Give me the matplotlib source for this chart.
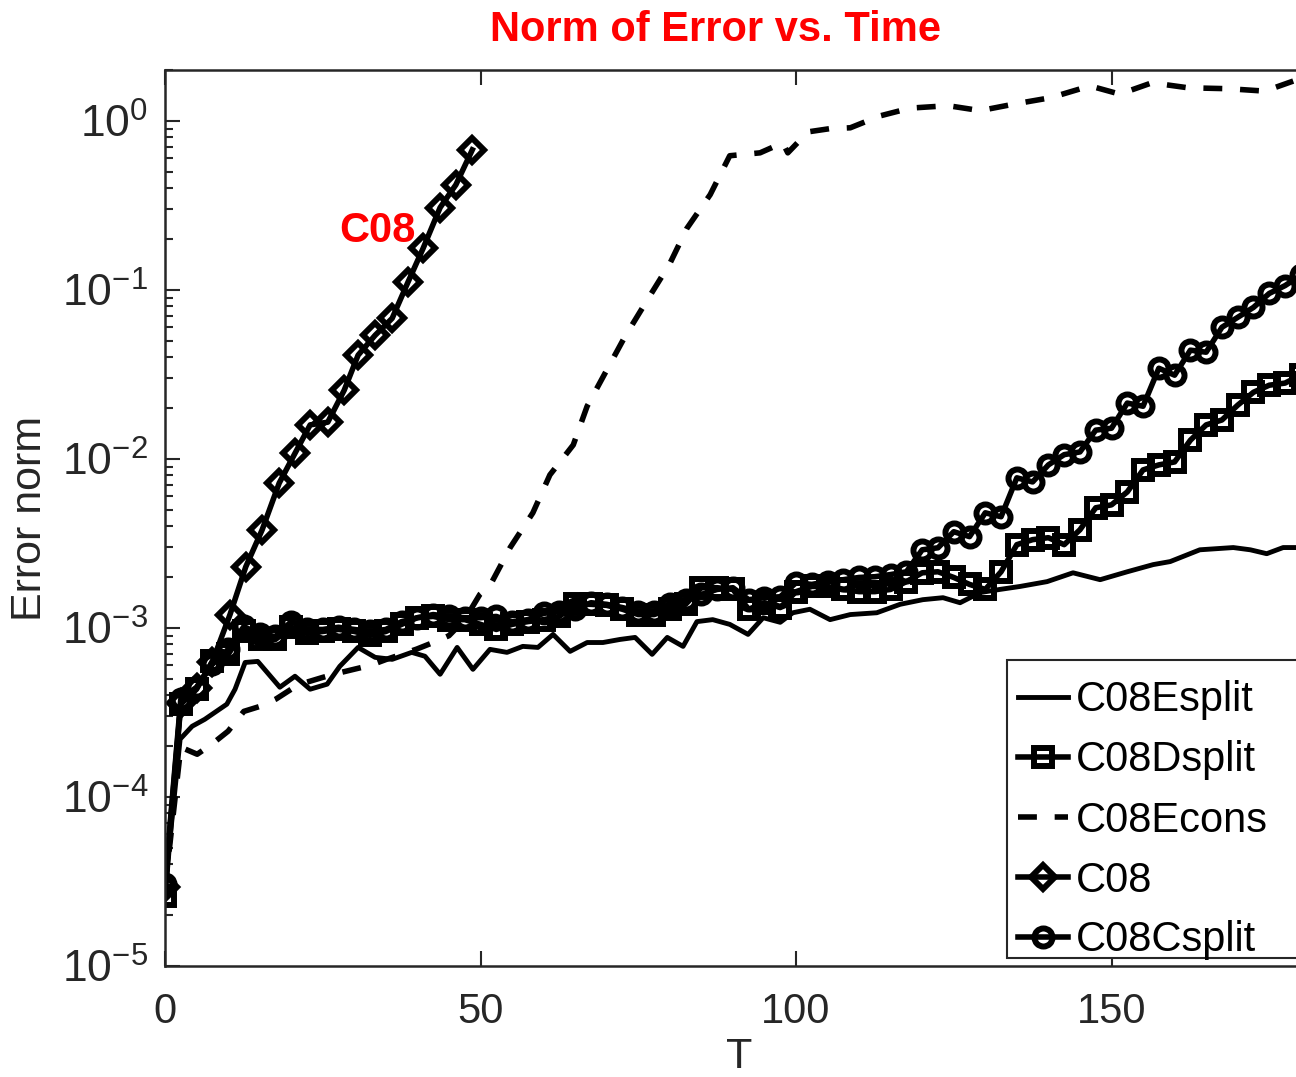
import numpy as np
import matplotlib
matplotlib.use("Agg")
import matplotlib.pyplot as plt
from matplotlib.patches import Rectangle
from matplotlib.ticker import FuncFormatter

# values
t_grid = np.arange(0, 180.1, 2.5)

dsplit = [2.61e-5, 3.54e-4, 4.34e-4, 6.34e-4, 6.98e-4, 9.53e-4, 8.55e-4, 8.55e-4, 1.01e-3, 9.28e-4,
          9.53e-4, 9.8e-4, 9.53e-4, 9.03e-4, 9.53e-4, 1.05e-3, 1.15e-3, 1.17e-3, 1.12e-3, 1.12e-3,
          1.05e-3, 9.8e-4, 1.05e-3, 1.09e-3, 1.12e-3, 1.17e-3, 1.38e-3, 1.38e-3, 1.36e-3, 1.29e-3,
          1.20e-3, 1.20e-3, 1.29e-3, 1.38e-3, 1.73e-3, 1.73e-3, 1.69e-3, 1.29e-3, 1.41e-3, 1.32e-3,
          1.64e-3, 1.76e-3, 1.76e-3, 1.69e-3, 1.64e-3, 1.64e-3, 1.69e-3, 1.88e-3, 2.12e-3, 2.15e-3,
          1.99e-3, 1.81e-3, 1.69e-3, 2.15e-3, 3.11e-3, 3.33e-3, 3.42e-3, 3.11e-3, 3.81e-3, 5.14e-3,
          5.35e-3, 6.38e-3, 8.61e-3, 9.22e-3, 9.6e-3, 1.29e-2, 1.59e-2, 1.70e-2, 2.08e-2, 2.48e-2,
          2.73e-2, 2.81e-2, 3.13e-2]

csplit = [3.07e-5, 3.79e-4, 4.46e-4, 6.09e-4, 7.47e-4, 1.02e-3, 9.16e-4, 8.91e-4, 1.09e-3, 9.8e-4,
          9.8e-4, 1.01e-3, 9.8e-4, 9.53e-4, 9.8e-4, 1.09e-3, 1.15e-3, 1.20e-3, 1.17e-3, 1.15e-3,
          1.15e-3, 1.17e-3, 1.09e-3, 1.12e-3, 1.22e-3, 1.25e-3, 1.29e-3, 1.41e-3, 1.38e-3, 1.32e-3,
          1.25e-3, 1.25e-3, 1.38e-3, 1.47e-3, 1.58e-3, 1.69e-3, 1.73e-3, 1.47e-3, 1.51e-3, 1.53e-3,
          1.85e-3, 1.81e-3, 1.88e-3, 1.93e-3, 1.99e-3, 2.01e-3, 2.07e-3, 2.15e-3, 2.90e-3, 2.98e-3,
          3.71e-3, 3.47e-3, 4.80e-3, 4.55e-3, 7.73e-3, 7.31e-3, 9.22e-3, 1.06e-2, 1.10e-2, 1.48e-2,
          1.52e-2, 2.14e-2, 2.05e-2, 3.44e-2, 3.13e-2, 4.40e-2, 4.28e-2, 6.01e-2, 6.88e-2, 7.88e-2,
          9.53e-2, 0.106, 0.122]

c08_t = [0, 2.5, 5, 7.5, 10.3, 12.8, 15.4, 18.1, 20.6, 23.0, 25.8, 28.4, 30.6, 33.3, 36.0, 38.5,
         40.9, 43.6, 46.1, 48.7]
c08 = [2.95e-5, 3.6e-4, 4.4e-4, 6.3e-4, 1.2e-3, 2.3e-3, 3.81e-3, 7.2e-3, 1.08e-2, 1.59e-2,
       1.65e-2, 2.55e-2, 4.11e-2, 5.39e-2, 6.79e-2, 0.111, 0.176, 0.307, 0.419, 0.674]

esplit_t = [0, 2.4, 4.3, 6.3, 9.8, 11.1, 12.7, 14.7, 18.2, 20.6, 23.0, 25.7, 27.7, 30.6, 33.3, 36.0,
            39.1, 41.2, 43.6, 46.3, 48.8, 51.5, 54.2, 56.7, 59.1, 61.5, 64.2, 66.9, 69.4, 72.1,
            74.5, 77.2, 79.6, 82.1, 84.3, 86.8, 89.5, 92.4, 94.8, 97.5, 99.5, 102.2, 105.4, 108.6,
            112.8, 116.5, 120.1, 123.3, 126.0, 129.2, 132.3, 135.5, 139.8, 143.9, 148.2, 152.5,
            156.6, 159.3, 164.0, 169.3, 172.0, 174.6, 177.2, 179.2]
esplit = [2.9e-5, 2.2e-4, 2.62e-4, 2.88e-4, 3.54e-4, 4.34e-4, 6.25e-4, 6.34e-4, 4.46e-4, 5.18e-4,
          4.34e-4, 4.65e-4, 5.93e-4, 7.67e-4, 6.7e-4, 6.52e-4, 7.17e-4, 6.8e-4, 5.32e-4, 7.67e-4,
          5.69e-4, 7.47e-4, 7.17e-4, 7.78e-4, 7.67e-4, 9.16e-4, 7.27e-4, 8.2e-4, 8.2e-4, 8.55e-4,
          8.79e-4, 6.98e-4, 8.79e-4, 7.78e-4, 1.09e-3, 1.12e-3, 1.05e-3, 9.16e-4, 1.15e-3, 1.08e-3,
          1.23e-3, 1.29e-3, 1.12e-3, 1.2e-3, 1.23e-3, 1.38e-3, 1.47e-3, 1.51e-3, 1.41e-3, 1.62e-3,
          1.69e-3, 1.76e-3, 1.88e-3, 2.12e-3, 1.93e-3, 2.15e-3, 2.37e-3, 2.47e-3, 2.9e-3, 2.99e-3,
          2.9e-3, 2.75e-3, 2.99e-3, 2.99e-3]

econs_t = [0, 2.5, 5.1, 7.4, 10.0, 12.5, 15.1, 17.6, 20.0, 22.5, 25.0, 27.4, 30.0, 32.5, 35.0,
           37.6, 39.9, 42.5, 45.0, 47.5, 49.9, 51.5, 54.7, 58.3, 61.0, 64.7, 66.9, 70.0, 72.9,
           76.5, 80.0, 82.7, 86.4, 89.5, 94.3, 97.9, 98.7, 101.9, 105.4, 108.6, 113.3, 118.1,
           124.1, 129.2, 134.7, 140.3, 146.6, 151.3, 156.4, 162.1, 168.5, 174.3, 178.8]
econs = [2.9e-5, 1.97e-4, 1.79e-4, 2.05e-4, 2.45e-4, 3.21e-4, 3.44e-4, 3.8e-4, 4.34e-4, 4.78e-4,
         5.1e-4, 5.4e-4, 5.7e-4, 6.0e-4, 6.5e-4, 7.0e-4, 7.5e-4, 8.2e-4, 9.0e-4, 1.12e-3,
         1.58e-3, 1.78e-3, 2.99e-3, 4.8e-3, 8.05e-3, 1.21e-2, 2.05e-2, 3.35e-2, 5.3e-2,
         8.8e-2, 0.143, 0.231, 0.366, 0.622, 0.647, 0.742, 0.647, 0.861, 0.90, 0.91, 1.07, 1.19,
         1.23, 1.15, 1.26, 1.37, 1.61, 1.44, 1.68, 1.57, 1.55, 1.50, 1.72]

plt.rcParams['font.family'] = ['Liberation Sans', 'DejaVu Sans']
plt.rcParams['mathtext.fontset'] = 'custom'
plt.rcParams['mathtext.rm'] = 'Liberation Sans'
plt.rcParams['axes.unicode_minus'] = False

W, H = 1296, 1077
fig = plt.figure(figsize=(W / 100, H / 100), dpi=100)
ax_w = 182 * 6.31
ax = fig.add_axes([165 / W, 1 - 966 / H, ax_w / W, (966 - 70) / H])

lw = 4
ms = 13
mew = 4.3
ax.plot(esplit_t, esplit, '-', color='k', lw=lw - 0.5, label='C08Esplit')
ax.plot(t_grid, dsplit, '-', color='k', lw=lw, marker='s', ms=ms, mew=mew, mfc='none', label='C08Dsplit')
ax.plot(econs_t, econs, color='k', lw=lw, linestyle=(0, (3.4, 3.2)), label='C08Econs')
ax.plot(c08_t, c08, '-', color='k', lw=lw, marker='D', ms=12, mew=mew, mfc='none', label='C08')
ax.plot(t_grid, csplit, '-', color='k', lw=lw, marker='o', ms=ms, mew=mew, mfc='none', label='C08Csplit')

ax.set_yscale('log')
ax.set_xlim(0, 182)
ax.set_ylim(1e-5, 2)
ax.set_xticks([0, 50, 100, 150])
ax.yaxis.set_major_formatter(FuncFormatter(
    lambda v, p: r'$\mathdefault{10^{%d}}$' % round(np.log10(v))))

for s in ax.spines.values():
    s.set_color('#262626')
    s.set_linewidth(1.8)
ax.tick_params(axis='both', which='major', direction='in', length=11, width=1.5,
               colors='#262626', labelsize=30, top=True, right=True)
ax.tick_params(axis='y', which='major', labelsize=32, pad=12)
ax.tick_params(axis='y', which='minor', direction='in', length=6, width=1.5,
               colors='#262626', right=True)
ax.tick_params(axis='x', pad=19)

ax.set_xlabel('T', fontsize=31, color='#262626', labelpad=3)
ax.set_ylabel('Error norm', fontsize=31, color='#262626')
ax.yaxis.set_label_coords((50 - 165) / ax_w, 0.5)

ax.text(33.6, 0.224, 'C08', color='#ff0000', fontsize=30, fontweight='bold',
        ha='center', va='center')
fig.text(716 / W, 1 - 30 / H, 'Norm of Error vs. Time', color='#ff0000', fontsize=30,
         fontweight='bold', ha='center', va='center')

# legend box runs past the right edge of the picture, as in the reference
box = Rectangle((1007 / W, 1 - 958 / H), 320 / W, (958 - 660) / H, transform=fig.transFigure,
                facecolor='white', edgecolor='#262626', lw=1.5, zorder=4.9, clip_on=False)
ax.add_artist(box)
leg = ax.legend(loc='upper left', bbox_to_anchor=(1000 / W, 1 - 663 / H),
                bbox_transform=fig.transFigure, borderaxespad=0, frameon=False,
                fontsize=30, handlelength=1.2, handletextpad=0.2, labelspacing=0.48,
                borderpad=0.42)

fig.savefig('out.png', dpi=100)
